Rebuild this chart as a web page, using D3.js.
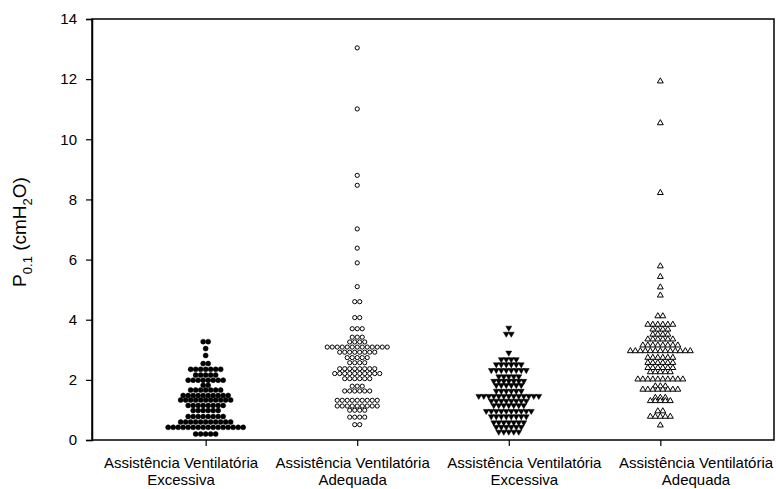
<!DOCTYPE html>
<html>
<head>
<meta charset="utf-8">
<script src="https://cdn.jsdelivr.net/npm/d3@7"></script>
<style>
  html, body { margin: 0; padding: 0; background: #fff; }
  svg { display: block; font-family: Arial, "Liberation Sans", sans-serif; }
</style>
</head>
<body>
<svg id="chart" width="776" height="489"></svg>
<script>
// Group labels (two lines each) and the group positions on the x axis
const groupLines = [
  ["Assistência Ventilatória", "Excessiva"],
  ["Assistência Ventilatória", "Adequada"],
  ["Assistência Ventilatória", "Excessiva"],
  ["Assistência Ventilatória", "Adequada"]
];
const groupPos = [1, 2, 3, 4];
const yTicks = [0, 2, 4, 6, 8, 10, 12, 14];

// P0.1 measurements (cmH2O) for each group
const excessiva1 = [
  3.27, 3.27, 3.04, 2.81, 2.54, 2.54,
  2.35, 2.35, 2.35, 2.35, 2.35, 2.35, 2.35,
  2.16, 2.16, 2.16, 2.16, 2.16,
  1.99, 1.99, 1.99, 1.99, 1.99, 1.99, 1.99, 1.99,
  1.82, 1.82,
  1.66, 1.66, 1.66, 1.66, 1.66, 1.66, 1.66,
  1.48, 1.48, 1.48, 1.48, 1.48, 1.48, 1.48, 1.48, 1.48, 1.48,
  1.33, 1.33, 1.33, 1.33, 1.33, 1.33, 1.33, 1.33, 1.33, 1.33, 1.33,
  1.15, 1.15, 1.15, 1.15, 1.15, 1.15, 1.15, 1.15,
  0.98, 0.98, 0.98, 0.98, 0.98, 0.98,
  0.78, 0.78, 0.78, 0.78, 0.78, 0.78, 0.78, 0.78,
  0.60, 0.60, 0.60, 0.60, 0.60, 0.60, 0.60, 0.60, 0.60, 0.60, 0.60,
  0.42, 0.42, 0.42, 0.42, 0.42, 0.42, 0.42, 0.42, 0.42, 0.42, 0.42, 0.42, 0.42, 0.42, 0.42, 0.42,
  0.20, 0.20, 0.20, 0.20, 0.20
];
const adequada1 = [
  13.04, 11.01, 8.80, 8.47, 7.02, 6.38, 5.89, 5.10,
  4.60, 4.60, 4.07, 4.07,
  3.70, 3.70, 3.70, 3.42, 3.42, 3.42,
  3.26, 3.26, 3.26, 3.26,
  3.09, 3.09, 3.09, 3.09, 3.09, 3.09, 3.09, 3.09, 3.09, 3.09, 3.09, 3.09, 3.09,
  2.92, 2.92, 2.92, 2.92, 2.92, 2.92, 2.92, 2.92,
  2.74, 2.74, 2.74, 2.74, 2.74,
  2.57, 2.57, 2.57, 2.57,
  2.37, 2.37, 2.37, 2.37, 2.37, 2.37, 2.37, 2.37,
  2.21, 2.21, 2.21, 2.21, 2.21, 2.21, 2.21, 2.21, 2.21, 2.21,
  2.04, 2.04, 2.04, 2.04, 2.04, 2.04,
  1.79, 1.79, 1.79,
  1.63, 1.63, 1.63, 1.63, 1.63, 1.63,
  1.32, 1.32, 1.32, 1.32, 1.32, 1.32, 1.32, 1.32, 1.32,
  1.13, 1.13, 1.13, 1.13, 1.13, 1.13, 1.13, 1.13, 1.13,
  0.99, 0.99, 0.99, 0.99,
  0.76, 0.76, 0.76, 0.76,
  0.51, 0.51
];
const excessiva2 = [
  3.73, 3.53, 3.53, 2.90,
  2.68, 2.68, 2.68, 2.68,
  2.51, 2.51, 2.51, 2.51, 2.51, 2.51,
  2.32, 2.32, 2.32, 2.32, 2.32, 2.32, 2.32, 2.32,
  2.11, 2.11, 2.11, 2.11, 2.11,
  1.96, 1.96, 1.96, 1.96, 1.96, 1.96, 1.96,
  1.82, 1.82, 1.82, 1.82, 1.82, 1.82,
  1.63, 1.63, 1.63, 1.63, 1.63, 1.63,
  1.46, 1.46, 1.46, 1.46, 1.46, 1.46, 1.46, 1.46, 1.46, 1.46, 1.46, 1.46, 1.46,
  1.30, 1.30, 1.30, 1.30, 1.30, 1.30, 1.30, 1.30,
  1.15, 1.15, 1.15, 1.15, 1.15, 1.15, 1.15,
  0.96, 0.96, 0.96, 0.96, 0.96, 0.96, 0.96, 0.96, 0.96, 0.96,
  0.78, 0.78, 0.78, 0.78, 0.78, 0.78, 0.78, 0.78,
  0.58, 0.58, 0.58, 0.58, 0.58, 0.58, 0.58,
  0.43, 0.43, 0.43, 0.43, 0.43, 0.43,
  0.27, 0.27, 0.27, 0.27, 0.27
];
const adequada2 = [
  11.93, 10.54, 8.22, 5.78, 5.43, 5.08, 4.81,
  4.12, 4.12,
  3.84, 3.84, 3.84, 3.84, 3.84, 3.84,
  3.68, 3.68, 3.68, 3.68,
  3.51, 3.51, 3.51, 3.51,
  3.35, 3.35, 3.35, 3.35, 3.35, 3.35,
  3.15, 3.15, 3.15, 3.15, 3.15, 3.15, 3.15, 3.15,
  2.96, 2.96, 2.96, 2.96, 2.96, 2.96, 2.96, 2.96, 2.96, 2.96, 2.96, 2.96, 2.96,
  2.74, 2.74, 2.74, 2.74, 2.74, 2.74,
  2.57, 2.57, 2.57, 2.57, 2.57, 2.57,
  2.40, 2.40, 2.40, 2.40, 2.40, 2.40,
  2.26, 2.26, 2.26, 2.26, 2.26,
  2.02, 2.02, 2.02, 2.02, 2.02, 2.02, 2.02, 2.02, 2.02, 2.02,
  1.79, 1.79, 1.79,
  1.68, 1.68, 1.68, 1.68, 1.68, 1.68, 1.68, 1.68,
  1.41, 1.41, 1.41,
  1.30, 1.30, 1.30, 1.30, 1.30,
  0.96, 0.96,
  0.78, 0.78, 0.78, 0.78, 0.78,
  0.49
];

const series = [
  { values: excessiva1, marker: "circleFilled" },
  { values: adequada1,  marker: "circleOpen" },
  { values: excessiva2, marker: "triangleDown" },
  { values: adequada2,  marker: "triangleOpen" }
];

const FONT = "Arial, 'Liberation Sans', sans-serif";
const svg = d3.select("#chart");
const frame = { left: 92, right: 774, top: 19, bottom: 440 };

const x = d3.scaleLinear().domain([0.25, 4.75]).range([frame.left, frame.right]);
const y = d3.scaleLinear().domain([0, 14]).range([frame.bottom, frame.top]);
// Category captions are spread evenly along the bottom, side by side
const labelX = d3.scalePoint().domain(d3.range(groupLines.length)).range([181, 696]);

// Frame
svg.append("rect")
  .attr("x", frame.left).attr("y", frame.top)
  .attr("width", frame.right - frame.left).attr("height", frame.bottom - frame.top)
  .attr("fill", "none").attr("stroke", "#000").attr("stroke-width", 1.5);

// Y axis
const yAxis = svg.append("g")
  .attr("transform", `translate(${frame.left},0)`)
  .call(d3.axisLeft(y).tickValues(yTicks).tickSize(6).tickPadding(9).tickFormat(d3.format("d")));
yAxis.select(".domain").attr("stroke-width", 1.5);
yAxis.selectAll(".tick line").attr("stroke-width", 1.2);
yAxis.selectAll(".tick text")
  .attr("font-size", 15).attr("fill", "#000").attr("font-family", FONT);

// X axis ticks at the group positions
const xAxis = svg.append("g")
  .attr("transform", `translate(0,${frame.bottom})`)
  .call(d3.axisBottom(x).tickValues(groupPos).tickSize(6).tickFormat(() => ""));
xAxis.select(".domain").remove();
xAxis.selectAll(".tick line").attr("stroke-width", 1.2);
xAxis.selectAll(".tick text").remove();

// Two-line category captions
const captions = svg.append("g")
  .attr("font-size", 15)
  .attr("font-family", FONT)
  .attr("fill", "#000")
  .attr("text-anchor", "middle");
groupLines.forEach((lines, i) => {
  const t = captions.append("text");
  lines.forEach((line, j) => {
    t.append("tspan")
      .attr("x", labelX(i))
      .attr("y", frame.bottom + 28 + j * 17)
      .text(line);
  });
});

// Y axis title: P0.1 (cmH2O)
const yTitle = svg.append("text")
  .attr("transform", `translate(26,${232}) rotate(-90)`)
  .attr("text-anchor", "middle")
  .attr("font-size", 19)
  .attr("fill", "#000")
  .attr("font-family", FONT);
yTitle.append("tspan").text("P");
yTitle.append("tspan").attr("font-size", 13).attr("dy", 6).text("0.1");
yTitle.append("tspan").attr("dy", -6).text(" (cmH");
yTitle.append("tspan").attr("font-size", 13).attr("dy", 6).text("2");
yTitle.append("tspan").attr("dy", -6).text("O)");

// Dot-density layout: equal values sit side by side, centred on the group
const spacing = 5;
const triangle = d3.symbol().type(d3.symbolTriangle).size(15);

series.forEach((s, gi) => {
  const rows = d3.group(s.values, v => v);
  const pts = [];
  rows.forEach((vals, v) => {
    const n = vals.length;
    vals.forEach((_, k) => {
      pts.push({ v, dx: (k - (n - 1) / 2) * spacing });
    });
  });

  const g = svg.append("g");
  const cx = x(groupPos[gi]);

  if (s.marker === "circleFilled" || s.marker === "circleOpen") {
    const filled = s.marker === "circleFilled";
    g.selectAll("circle").data(pts).join("circle")
      .attr("cx", d => cx + d.dx)
      .attr("cy", d => y(d.v))
      .attr("r", filled ? 2.5 : 2.1)
      .attr("fill", filled ? "#000" : "#fff")
      .attr("stroke", "#000")
      .attr("stroke-width", filled ? 0.5 : 1);
  } else {
    const down = s.marker === "triangleDown";
    g.selectAll("path").data(pts).join("path")
      .attr("d", triangle)
      .attr("transform", d => `translate(${cx + d.dx},${y(d.v)})${down ? " rotate(180)" : ""}`)
      .attr("fill", down ? "#000" : "#fff")
      .attr("stroke", "#000")
      .attr("stroke-width", down ? 0.5 : 1);
  }
});
</script>
</body>
</html>
